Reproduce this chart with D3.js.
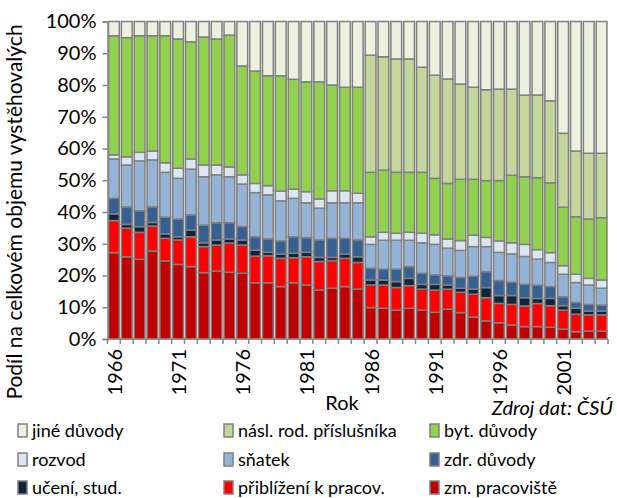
<!DOCTYPE html>
<html>
<head>
<meta charset="utf-8">
<script src="https://cdn.jsdelivr.net/npm/d3@7"></script>
<style>
  body { margin: 0; background: #fff; }
  svg text { font-family: Lato, "Open Sans", sans-serif; fill: #000; }
</style>
</head>
<body>
<svg id="chart" width="617" height="498"></svg>
<script>
'use strict';

let years = [1966, 1967, 1968, 1969, 1970, 1971, 1972, 1973, 1974, 1975,
    1976, 1977, 1978, 1979, 1980, 1981, 1982, 1983, 1984, 1985,
    1986, 1987, 1988, 1989, 1990, 1991, 1992, 1993, 1994, 1995,
    1996, 1997, 1998, 1999, 2000, 2001, 2002, 2003, 2004];
let yearLabels = [1966, 1971, 1976, 1981, 1986, 1991, 1996, 2001];
let yTicks = [0, 0.1, 0.2, 0.3, 0.4, 0.5, 0.6, 0.7, 0.8, 0.9, 1];

// shares in % (bottom to top)
let zmPracoviste = [27.2, 25.9, 25.1, 27.7, 24.6, 23.5, 22.8, 20.9, 21.4, 21.0,
    20.7, 17.7, 17.7, 16.5, 17.7, 17.0, 15.4, 16.0, 16.5, 15.7,
    9.9, 9.7, 9.1, 9.7, 9.1, 8.4, 9.4, 8.3, 6.9, 5.7,
    5.1, 4.4, 3.9, 3.9, 3.7, 3.1, 2.3, 2.5, 2.5];
let priblizeni = [10.1, 9.0, 8.5, 7.9, 7.1, 7.7, 9.4, 8.2, 8.2, 9.2,
    8.9, 8.4, 8.5, 8.9, 7.9, 8.9, 9.0, 8.7, 8.9, 8.4,
    7.1, 7.3, 7.1, 7.1, 6.6, 7.0, 6.3, 6.4, 7.2, 7.3,
    6.1, 6.5, 6.5, 7.3, 6.8, 6.0, 5.5, 5.1, 5.1];
let uceni = [2.1, 1.2, 1.8, 1.1, 1.4, 1.0, 2.1, 1.2, 1.6, 1.3,
    1.6, 1.9, 1.1, 1.3, 1.4, 1.4, 1.3, 1.0, 1.3, 1.8,
    1.6, 1.6, 1.9, 2.3, 1.5, 1.8, 1.3, 1.3, 1.6, 3.2,
    2.5, 2.8, 2.6, 1.6, 2.3, 1.4, 1.9, 1.2, 1.2];
let zdravotni = [4.9, 5.5, 5.0, 4.9, 5.3, 5.6, 4.8, 5.6, 5.4, 5.1,
    4.2, 4.2, 4.2, 4.2, 5.2, 4.6, 5.5, 6.0, 5.0, 5.3,
    3.7, 3.4, 3.9, 3.7, 3.5, 3.0, 2.9, 3.4, 4.1, 5.0,
    4.7, 4.2, 4.2, 4.2, 3.7, 2.8, 1.8, 2.1, 1.9];
let snatek = [12.4, 13.2, 15.7, 14.8, 14.1, 12.8, 14.4, 15.2, 15.1, 14.5,
    13.4, 13.9, 13.9, 12.6, 12.1, 11.0, 10.0, 11.2, 11.2, 11.7,
    7.5, 9.1, 9.1, 8.3, 9.6, 9.6, 8.7, 8.5, 9.3, 7.9,
    8.9, 8.9, 8.8, 8.2, 7.6, 7.1, 6.3, 6.1, 5.3];
let rozvod = [1.3, 2.6, 2.7, 2.8, 3.0, 3.2, 3.2, 3.7, 3.1, 3.1,
    2.9, 2.9, 2.9, 3.1, 2.9, 3.5, 2.9, 3.8, 3.8, 3.0,
    2.4, 2.5, 2.2, 2.5, 3.0, 3.0, 2.9, 3.1, 3.6, 2.9,
    3.6, 3.5, 3.8, 3.0, 3.1, 2.7, 2.6, 2.1, 2.6];
let bytove = [37.5, 37.5, 36.7, 36.3, 40.0, 40.7, 36.9, 40.3, 39.7, 41.5,
    34.3, 35.4, 34.6, 36.3, 34.6, 34.6, 36.9, 33.3, 32.6, 33.4,
    20.3, 19.6, 19.2, 18.9, 19.2, 17.8, 17.5, 19.3, 17.6, 17.9,
    19.0, 21.3, 21.3, 22.7, 22.0, 18.4, 18.1, 18.7, 19.6];
let naslRod = [0, 0, 0, 0, 0, 0, 0, 0, 0, 0,
    0, 0, 0, 0, 0, 0, 0, 0, 0, 0,
    36.9, 35.7, 35.7, 35.7, 33.1, 32.5, 32.9, 30.0, 29.0, 28.6,
    28.8, 27.1, 25.7, 26.1, 25.8, 23.3, 20.7, 20.7, 20.3];
let jine = [4.5, 5.1, 4.5, 4.5, 4.5, 5.5, 6.4, 4.9, 5.5, 4.3,
    14.0, 15.6, 17.1, 17.1, 18.2, 19.0, 19.0, 20.0, 20.7, 20.7,
    10.6, 11.1, 11.8, 11.8, 14.4, 16.9, 18.1, 19.7, 20.7, 21.5,
    21.3, 21.3, 23.2, 23.2, 25.0, 35.2, 40.8, 41.5, 41.5];

let seriesKeys = ["zm", "pribl", "uceni", "zdr", "snatek", "rozvod", "byt", "nasl", "jine"];
let seriesNames = {
    zm: "zm. pracoviště", pribl: "přiblížení k pracov.", uceni: "učení, stud.",
    zdr: "zdr. důvody", snatek: "sňatek", rozvod: "rozvod",
    byt: "byt. důvody", nasl: "násl. rod. příslušníka", jine: "jiné důvody"
};
let seriesColors = {
    zm: "#c00000", pribl: "#ff0000", uceni: "#10243e", zdr: "#376092",
    snatek: "#95b3d7", rozvod: "#dce6f2", byt: "#92d050", nasl: "#c3d69b", jine: "#ebf1de"
};
let legendRows = [["jine", "nasl", "byt"], ["rozvod", "snatek", "zdr"], ["uceni", "pribl", "zm"]];

let table = years.map((y, i) => ({
    year: y, zm: zmPracoviste[i], pribl: priblizeni[i], uceni: uceni[i], zdr: zdravotni[i],
    snatek: snatek[i], rozvod: rozvod[i], byt: bytove[i], nasl: naslRod[i], jine: jine[i]
}));

let svg = d3.select("#chart"),
    margin = {top: 21.5, bottom: 159, left: 107.5, right: 9},
    width = +svg.attr("width"),
    height = +svg.attr("height");
let axisColor = "#868686";

let x = d3.scaleBand()
    .domain(years)
    .range([margin.left, width - margin.right])
    .paddingInner(0.16)
    .paddingOuter(0.08);

let y = d3.scaleLinear()
    .domain([0, 1])
    .range([height - margin.bottom, margin.top]);

let stacked = d3.stack().keys(seriesKeys).offset(d3.stackOffsetExpand)(table);

svg.append("g")
    .selectAll("g")
    .data(stacked)
    .join("g")
    .attr("fill", d => seriesColors[d.key])
    .selectAll("rect")
    .data(d => d.filter(p => p[1] - p[0] > 0))
    .join("rect")
    .attr("x", d => x(d.data.year))
    .attr("y", d => y(d[1]))
    .attr("width", x.bandwidth())
    .attr("height", d => y(d[0]) - y(d[1]))
    .attr("stroke", "#808080")
    .attr("stroke-width", 1.5);

// y axis
let yAxis = svg.append("g")
    .attr("transform", "translate(" + margin.left + ",0)")
    .call(d3.axisLeft(y).tickValues(yTicks).tickFormat(d3.format(".0%")).tickSize(5).tickPadding(6));
yAxis.select(".domain").attr("stroke", axisColor).attr("stroke-width", 1.5);
yAxis.selectAll(".tick line").attr("stroke", axisColor).attr("stroke-width", 1.5);
yAxis.selectAll(".tick text").style("font-size", "20px");

// x axis
let y0 = y(0);
let xg = svg.append("g");
xg.append("line")
    .attr("x1", margin.left).attr("x2", width - margin.right)
    .attr("y1", y0).attr("y2", y0)
    .attr("stroke", axisColor).attr("stroke-width", 1.5);
xg.selectAll("line.tk")
    .data(years.concat([null]))
    .join("line")
    .attr("class", "tk")
    .attr("x1", (d, i) => margin.left + (width - margin.right - margin.left) * i / years.length)
    .attr("x2", (d, i) => margin.left + (width - margin.right - margin.left) * i / years.length)
    .attr("y1", y0).attr("y2", y0 + 5)
    .attr("stroke", axisColor).attr("stroke-width", 1.5);
xg.selectAll("text")
    .data(yearLabels)
    .join("text")
    .attr("transform", d => "translate(" + (x(d) + x.bandwidth() / 2 + 1) + "," + (y0 + 10) + ") rotate(-90)")
    .attr("text-anchor", "end")
    .attr("dy", "0.35em")
    .style("font-size", "20px")
    .text(d => d);

svg.append("text")
    .attr("x", 342).attr("y", 410)
    .attr("text-anchor", "middle")
    .style("font-size", "20px")
    .text("Rok");

svg.append("text")
    .attr("x", 613).attr("y", 415)
    .attr("text-anchor", "end")
    .style("font-size", "20px")
    .style("font-style", "italic")
    .text("Zdroj dat: ČSÚ");

svg.append("text")
    .attr("transform", "translate(15,212) rotate(-90)")
    .attr("text-anchor", "middle")
    .attr("dy", "0.35em")
    .style("font-size", "21px")
    .text("Podíl na celkovém objemu vystěhovalých");

// legend
let colX = [18, 224, 430];
let rowY = [431, 460, 488];
legendRows.forEach((row, r) => {
    row.forEach((key, c) => {
        let g = svg.append("g").attr("transform", "translate(" + colX[c] + "," + rowY[r] + ")");
        g.append("rect")
            .attr("x", 0).attr("y", -7)
            .attr("width", 9).attr("height", 13)
            .attr("fill", seriesColors[key])
            .attr("stroke", "#808080")
            .attr("stroke-width", 1.5);
        g.append("text")
            .attr("x", 14).attr("y", 0)
            .attr("dy", "0.35em")
            .style("font-size", "18px")
            .text(seriesNames[key]);
    });
});
</script>
</body>
</html>
